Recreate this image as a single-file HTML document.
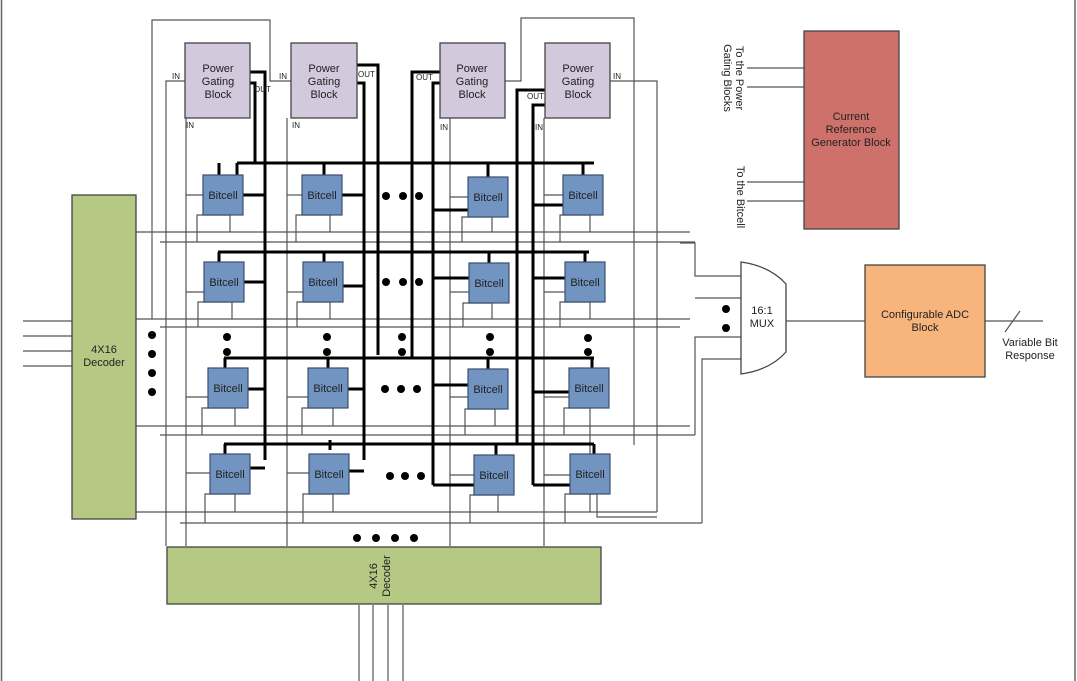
<!DOCTYPE html>
<html><head><meta charset="utf-8"><style>
html,body{margin:0;padding:0;background:#fff;}
svg{display:block;font-family:"Liberation Sans",sans-serif;}
</style></head><body>
<svg width="1077" height="681" viewBox="0 0 1077 681" xmlns="http://www.w3.org/2000/svg">
<rect x="0" y="0" width="1077" height="681" fill="#fff"/>
<line x1="1.5" y1="0" x2="1.5" y2="681" stroke="#666" stroke-width="1.5"/>
<line x1="1075" y1="0" x2="1075" y2="681" stroke="#666" stroke-width="1.5"/>

<!-- thin grid lines -->
<g stroke="#555" stroke-width="1.2" fill="none">
  <!-- row horizontal lines -->
  <line x1="136" y1="232" x2="690" y2="232"/><line x1="160" y1="242" x2="695" y2="242"/>
  <line x1="136" y1="319" x2="690" y2="319"/><line x1="160" y1="327" x2="680" y2="327"/>
  <line x1="136" y1="426" x2="690" y2="426"/><line x1="160" y1="435" x2="695" y2="435"/>
  <line x1="136" y1="512" x2="657" y2="512"/><line x1="180" y1="523" x2="702" y2="523"/>
  <!-- verticals -->
  <polyline points="152,319 152,20 270,20 270,81 291,81"/>
  <polyline points="166,546 166,81 185,81"/>
  <polyline points="186,546 186,118"/>
  <polyline points="287,546 287,118"/>
  <polyline points="450,546 450,118"/>
  <polyline points="544,546 544,118"/>
  <polyline points="505,81 521,81 521,18 634,18 634,445"/>
  <polyline points="610,81 657,81 657,512"/>
  <!-- mux input lines -->
  <polyline points="680,243 695,243 695,276 741,276"/>
  <polyline points="695,298 741,298"/>
  <polyline points="741,337 695,337 695,435"/>
  <polyline points="741,359 702,359 702,523"/>
  <!-- decoder inputs -->
  <line x1="23" y1="321" x2="72" y2="321"/><line x1="23" y1="336" x2="72" y2="336"/>
  <line x1="23" y1="351" x2="72" y2="351"/><line x1="23" y1="366" x2="72" y2="366"/>
  <line x1="359" y1="605" x2="359" y2="681"/><line x1="373" y1="605" x2="373" y2="681"/>
  <line x1="388" y1="605" x2="388" y2="681"/><line x1="403" y1="605" x2="403" y2="681"/>
  <!-- current ref lines -->
  <line x1="747" y1="68" x2="804" y2="68"/><line x1="747" y1="87" x2="804" y2="87"/>
  <line x1="747" y1="182" x2="804" y2="182"/><line x1="747" y1="201" x2="804" y2="201"/>
  <!-- mux to adc -->
  <line x1="786" y1="321" x2="865" y2="321"/>
  <line x1="985" y1="321" x2="1043" y2="321"/>
  <line x1="1005" y1="332" x2="1020" y2="311"/>
</g>

<!-- bitcell thin attachments (left & bottom) -->
<g stroke="#555" stroke-width="1.2" fill="none">
  <!-- row1 -->
  <line x1="186" y1="195" x2="203" y2="195"/><polyline points="197,242 197,215 230,215 230,232"/>
  <line x1="287" y1="195" x2="302" y2="195"/><polyline points="296,242 296,215 330,215 330,232"/>
  <line x1="450" y1="197" x2="468" y2="197"/><polyline points="462,242 462,217 492,217 492,232"/>
  <line x1="544" y1="195" x2="563" y2="195"/><polyline points="560,242 560,215 590,215 590,232"/>
  <!-- row2 -->
  <line x1="186" y1="292" x2="204" y2="292"/><polyline points="198,327 198,302 232,302 232,319"/>
  <line x1="287" y1="292" x2="303" y2="292"/><polyline points="297,327 297,302 330,302 330,319"/>
  <line x1="450" y1="292" x2="469" y2="292"/><polyline points="463,327 463,303 492,303 492,319"/>
  <line x1="544" y1="292" x2="565" y2="292"/><polyline points="560,327 560,302 590,302 590,319"/>
  <!-- row3 -->
  <line x1="186" y1="397" x2="208" y2="397"/><polyline points="202,435 202,408 235,408 235,426"/>
  <line x1="287" y1="397" x2="308" y2="397"/><polyline points="302,435 302,408 333,408 333,426"/>
  <line x1="450" y1="397" x2="468" y2="397"/><polyline points="465,435 465,409 495,409 495,426"/>
  <line x1="544" y1="397" x2="569" y2="397"/><polyline points="564,435 564,408 590,408 590,512"/>
  <!-- row4 -->
  <line x1="186" y1="473" x2="210" y2="473"/><polyline points="205,523 205,494 235,494 235,512"/>
  <line x1="287" y1="473" x2="309" y2="473"/><polyline points="303,523 303,494 333,494 333,512"/>
  <line x1="450" y1="475" x2="474" y2="475"/><polyline points="470,523 470,495 498,495 498,512"/>
  <line x1="544" y1="475" x2="570" y2="475"/><polyline points="565,523 565,494 597,494 597,517 657,517"/>
</g>

<!-- thick lines -->
<g stroke="#000" stroke-width="3" fill="none">
  <line x1="237" y1="163" x2="594" y2="163"/>
  <line x1="218" y1="252" x2="589" y2="252"/>
  <line x1="224" y1="358" x2="594" y2="358"/>
  <line x1="224" y1="444" x2="594" y2="444"/>
  <!-- verticals -->
  <polyline points="250,72 265,72 265,460"/>
  <polyline points="250,83 255,83 255,163"/>
  <polyline points="357,65 378,65 378,355"/>
  <polyline points="357,83 364,83 364,460"/>
  <polyline points="440,72 412,72 412,358"/>
  <polyline points="440,83 433,83 433,485"/>
  <polyline points="545,90 517,90 517,444"/>
  <polyline points="545,105 533,105 533,485"/>
  <!-- bitcell top stubs -->
  <line x1="219" y1="163" x2="219" y2="175"/><line x1="237" y1="163" x2="237" y2="175"/>
  <line x1="324" y1="163" x2="324" y2="175"/><line x1="488" y1="163" x2="488" y2="177"/><line x1="583" y1="163" x2="583" y2="175"/>
  <line x1="219" y1="252" x2="219" y2="262"/><line x1="324" y1="252" x2="324" y2="262"/><line x1="489" y1="252" x2="489" y2="263"/><line x1="585" y1="252" x2="585" y2="262"/>
  <line x1="225" y1="358" x2="225" y2="368"/><line x1="328" y1="358" x2="328" y2="368"/><line x1="488" y1="358" x2="488" y2="369"/><line x1="592" y1="358" x2="592" y2="368"/>
  <line x1="225" y1="444" x2="225" y2="454"/><line x1="330" y1="440" x2="330" y2="450"/><line x1="496" y1="444" x2="496" y2="455"/><line x1="594" y1="444" x2="594" y2="454"/>
  <!-- outputs -->
  <line x1="243" y1="195" x2="265" y2="195"/><line x1="342" y1="195" x2="364" y2="195"/>
  <polyline points="433,210 468,210"/><polyline points="533,205 563,205"/>
  <line x1="244" y1="282" x2="265" y2="282"/><line x1="343" y1="286" x2="364" y2="286"/>
  <line x1="433" y1="278" x2="469" y2="278"/><line x1="533" y1="278" x2="565" y2="278"/>
  <line x1="248" y1="389" x2="265" y2="389"/><line x1="348" y1="389" x2="364" y2="389"/>
  <line x1="433" y1="385" x2="468" y2="385"/><line x1="533" y1="392" x2="569" y2="392"/>
  <line x1="250" y1="468" x2="265" y2="468"/><line x1="349" y1="471" x2="364" y2="471"/>
  <line x1="433" y1="485" x2="474" y2="485"/><line x1="533" y1="485" x2="570" y2="485"/>
</g>

<!-- blocks -->
<g stroke="#444" stroke-width="1.3">
  <rect x="185" y="43" width="65" height="75" fill="#d2c9dd"/>
  <rect x="291" y="43" width="66" height="75" fill="#d2c9dd"/>
  <rect x="440" y="43" width="65" height="75" fill="#d2c9dd"/>
  <rect x="545" y="43" width="65" height="75" fill="#d2c9dd"/>
  <rect x="72" y="195" width="64" height="324" fill="#b5c985"/>
  <rect x="167" y="547" width="434" height="57" fill="#b5c985"/>
  <rect x="804" y="31" width="95" height="198" fill="#cd716a"/>
  <rect x="865" y="265" width="120" height="112" fill="#f7b47c"/>
  <path d="M741,262 Q770,266 786,284 L786,352 Q770,370 741,374 Z" fill="#fff"/>
</g>
<g stroke="#3a4f70" stroke-width="1.2" fill="#7194c0">
  <rect x="203" y="175" width="40" height="40"/><rect x="302" y="175" width="40" height="40"/><rect x="468" y="177" width="40" height="40"/><rect x="563" y="175" width="40" height="40"/>
  <rect x="204" y="262" width="40" height="40"/><rect x="303" y="262" width="40" height="40"/><rect x="469" y="263" width="40" height="40"/><rect x="565" y="262" width="40" height="40"/>
  <rect x="208" y="368" width="40" height="40"/><rect x="308" y="368" width="40" height="40"/><rect x="468" y="369" width="40" height="40"/><rect x="569" y="368" width="40" height="40"/>
  <rect x="210" y="454" width="40" height="40"/><rect x="309" y="454" width="40" height="40"/><rect x="474" y="455" width="40" height="40"/><rect x="570" y="454" width="40" height="40"/>
</g>

<!-- dots -->
<g fill="#000">
  <circle cx="386" cy="196" r="4"/><circle cx="403" cy="196" r="4"/><circle cx="419" cy="196" r="4"/>
  <circle cx="386" cy="282" r="4"/><circle cx="403" cy="282" r="4"/><circle cx="419" cy="282" r="4"/>
  <circle cx="385" cy="389" r="4"/><circle cx="401" cy="389" r="4"/><circle cx="417" cy="389" r="4"/>
  <circle cx="390" cy="476" r="4"/><circle cx="405" cy="476" r="4"/><circle cx="421" cy="476" r="4"/>
  <circle cx="152" cy="335" r="4"/><circle cx="152" cy="354" r="4"/><circle cx="152" cy="373" r="4"/><circle cx="152" cy="392" r="4"/>
  <circle cx="227" cy="337" r="4"/><circle cx="227" cy="352" r="4"/>
  <circle cx="327" cy="337" r="4"/><circle cx="327" cy="352" r="4"/>
  <circle cx="402" cy="337" r="4"/><circle cx="402" cy="352" r="4"/>
  <circle cx="490" cy="337" r="4"/><circle cx="490" cy="352" r="4"/>
  <circle cx="588" cy="338" r="4"/><circle cx="588" cy="352" r="4"/>
  <circle cx="357" cy="538" r="4"/><circle cx="376" cy="538" r="4"/><circle cx="395" cy="538" r="4"/><circle cx="414" cy="538" r="4"/>
  <circle cx="726" cy="309" r="4"/><circle cx="726" cy="328" r="4"/>
</g>

<!-- text -->
<g font-size="11" fill="#222" text-anchor="middle">
  <text x="218" y="72">Power</text><text x="218" y="85">Gating</text><text x="218" y="98">Block</text>
  <text x="324" y="72">Power</text><text x="324" y="85">Gating</text><text x="324" y="98">Block</text>
  <text x="472" y="72">Power</text><text x="472" y="85">Gating</text><text x="472" y="98">Block</text>
  <text x="578" y="72">Power</text><text x="578" y="85">Gating</text><text x="578" y="98">Block</text>
  <text x="223" y="199">Bitcell</text><text x="322" y="199">Bitcell</text><text x="488" y="201">Bitcell</text><text x="583" y="199">Bitcell</text>
  <text x="224" y="286">Bitcell</text><text x="323" y="286">Bitcell</text><text x="489" y="287">Bitcell</text><text x="585" y="286">Bitcell</text>
  <text x="228" y="392">Bitcell</text><text x="328" y="392">Bitcell</text><text x="488" y="393">Bitcell</text><text x="589" y="392">Bitcell</text>
  <text x="230" y="478">Bitcell</text><text x="329" y="478">Bitcell</text><text x="494" y="479">Bitcell</text><text x="590" y="478">Bitcell</text>
  <text x="104" y="353">4X16</text><text x="104" y="366">Decoder</text>
  <text x="851" y="120">Current</text><text x="851" y="133">Reference</text><text x="851" y="146">Generator Block</text>
  <text x="925" y="318">Configurable ADC</text><text x="925" y="331">Block</text>
  <text x="762" y="314">16:1</text><text x="762" y="327">MUX</text>
  <text x="1030" y="346">Variable Bit</text><text x="1030" y="359">Response</text>
  <text transform="translate(377,576) rotate(-90)">4X16</text>
  <text transform="translate(390,576) rotate(-90)">Decoder</text>
  <text transform="translate(736,78) rotate(90)">To the Power</text>
  <text transform="translate(724,78) rotate(90)">Gating Blocks</text>
  <text transform="translate(737,197) rotate(90)">To the Bitcell</text>
</g>
<g font-size="8" fill="#222">
  <text x="172" y="79">IN</text><text x="186" y="128">IN</text>
  <text x="254" y="92">OUT</text>
  <text x="279" y="79">IN</text><text x="292" y="128">IN</text>
  <text x="358" y="77">OUT</text>
  <text x="416" y="80">OUT</text><text x="440" y="130">IN</text>
  <text x="527" y="99">OUT</text><text x="535" y="130">IN</text>
  <text x="613" y="79">IN</text>
</g>
</svg>
</body></html>
